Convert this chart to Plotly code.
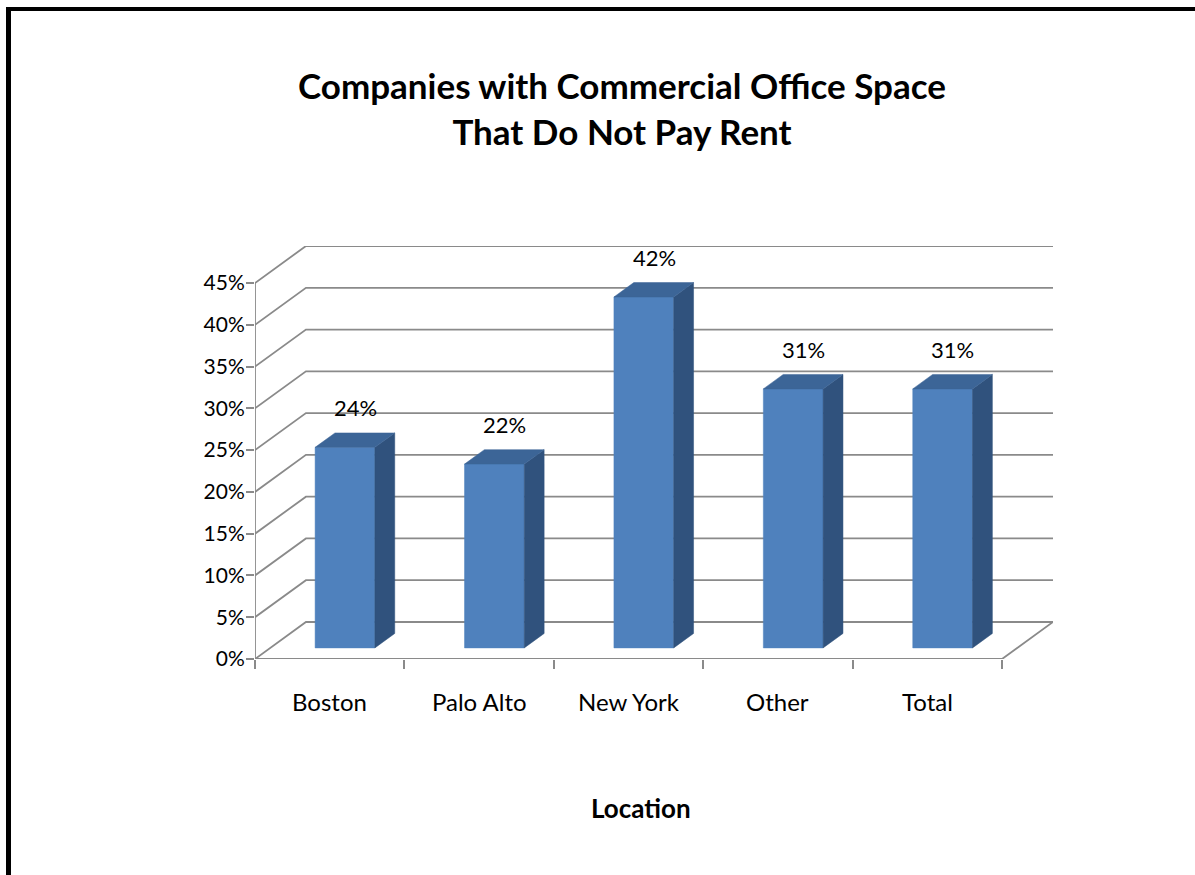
import plotly.graph_objects as go

# ---- data -------------------------------------------------------------
categories = ["Boston", "Palo Alto", "New York", "Other", "Total"]
shares = [24, 22, 42, 31, 31]          # percent of companies
y_ticks = [0, 5, 10, 15, 20, 25, 30, 35, 40, 45]
y_tick_labels = [f"{v}%" for v in y_ticks]

# ---- figure geometry --------------------------------------------------
W, H = 1195, 875
L, R, T, B = 255, 142, 246, 216

DEPTH_X = 0.341   # oblique depth offset, in category units
DEPTH_Y = 4.43    # oblique depth offset, in percent units
BAR_X0, BAR_X1 = 0.3, 0.7   # bar span inside its category slot
BAR_D0, BAR_D1 = 0.3, 0.69  # bar span along the depth axis
Y_MAX = y_ticks[-1]
N = len(categories)

GRID = "#8a8a8a"
FRONT = "#4f81bd"
TOP = "#3c6597"
SIDE = "#30527d"
FONT = "Lato"


def proj(x, v, d):
    """Oblique projection of (category x, value v, depth d) into axis units."""
    return x + d * DEPTH_X, v + d * DEPTH_Y


def px_x(p):
    return (p - L) / (W - L - R)


def px_y(p):
    return (H - B - p) / (H - T - B)


fig = go.Figure()


def line(points, color=GRID, width=1.8):
    xs, ys = zip(*points)
    fig.add_trace(go.Scatter(x=xs, y=ys, mode="lines", hoverinfo="skip",
                             line=dict(color=color, width=width), showlegend=False))


def face(points, color):
    xs, ys = zip(*(points + [points[0]]))
    fig.add_trace(go.Scatter(x=xs, y=ys, mode="lines", fill="toself",
                             fillcolor=color, hoverinfo="skip",
                             line=dict(color=color, width=0.5), showlegend=False))


# walls: gridlines on the back wall and on the left side wall
for v in y_ticks:
    line([proj(0, v, 0), proj(0, v, 1), proj(N, v, 1)])
# floor outline and front value axis
line([proj(0, 0, 0), proj(N, 0, 0), proj(N, 0, 1)])
line([proj(0, 0, 0), proj(0, Y_MAX, 0)])

# 3-D columns
for i, val in enumerate(shares):
    x0, x1 = i + BAR_X0, i + BAR_X1
    face([proj(x0, 0, BAR_D0), proj(x1, 0, BAR_D0),
          proj(x1, val, BAR_D0), proj(x0, val, BAR_D0)], FRONT)
    face([proj(x1, 0, BAR_D0), proj(x1, 0, BAR_D1),
          proj(x1, val, BAR_D1), proj(x1, val, BAR_D0)], SIDE)
    face([proj(x0, val, BAR_D0), proj(x1, val, BAR_D0),
          proj(x1, val, BAR_D1), proj(x0, val, BAR_D1)], TOP)

annotations = []
# category labels under the floor
for i, name in enumerate(categories):
    annotations.append(dict(x=i + 0.5, y=0, xref="x", yref="y", text=name,
                            showarrow=False, yshift=-42, yanchor="middle",
                            font=dict(family=FONT, size=24, color="#000000")))
# value labels above the columns
for i, val in enumerate(shares):
    cx, cy = proj(i + 0.5, val, 0.5)
    annotations.append(dict(x=cx, y=cy, xref="x", yref="y", text=f"{val}%",
                            showarrow=False, yshift=32, yanchor="middle",
                            font=dict(family=FONT, size=22, color="#000000")))
# chart title and axis title
annotations.append(dict(x=px_x(622), y=px_y(108), xref="paper", yref="paper",
                        text="<b>Companies with Commercial Office Space<br>That Do Not Pay Rent</b>",
                        showarrow=False, align="center", xanchor="center", yanchor="middle",
                        font=dict(family=FONT, size=35, color="#000000")))
annotations.append(dict(x=px_x(641), y=px_y(808), xref="paper", yref="paper",
                        text="<b>Location</b>", showarrow=False,
                        xanchor="center", yanchor="middle",
                        font=dict(family=FONT, size=26, color="#000000")))

# frame around the chart area
shapes = [
    dict(type="rect", xref="paper", yref="paper", x0=px_x(6), x1=px_x(11),
         y0=px_y(875), y1=px_y(7), fillcolor="#000000", line=dict(width=0), layer="above"),
    dict(type="rect", xref="paper", yref="paper", x0=px_x(6), x1=px_x(1195),
         y0=px_y(11), y1=px_y(7), fillcolor="#000000", line=dict(width=0), layer="above"),
]

fig.update_layout(
    width=W, height=H,
    margin=dict(l=L, r=R, t=T, b=B, pad=0),
    paper_bgcolor="#ffffff", plot_bgcolor="rgba(0,0,0,0)",
    showlegend=False,
    annotations=annotations,
    shapes=shapes,
    xaxis=dict(range=[0, N + DEPTH_X], showgrid=False, zeroline=False, showline=False,
               tickmode="array", tickvals=list(range(N + 1)), ticktext=[""] * (N + 1),
               ticks="outside", ticklen=9, tickwidth=1.8, tickcolor=GRID, fixedrange=True),
    yaxis=dict(range=[0, Y_MAX + DEPTH_Y], showgrid=False, zeroline=False, showline=False,
               tickmode="array", tickvals=y_ticks, ticktext=y_tick_labels,
               ticks="outside", ticklen=8, tickwidth=1.8, tickcolor=GRID,
               ticklabelstandoff=-3,
               tickfont=dict(family=FONT, size=21, color="#000000"), fixedrange=True),
)

fig.write_html("out.html")
